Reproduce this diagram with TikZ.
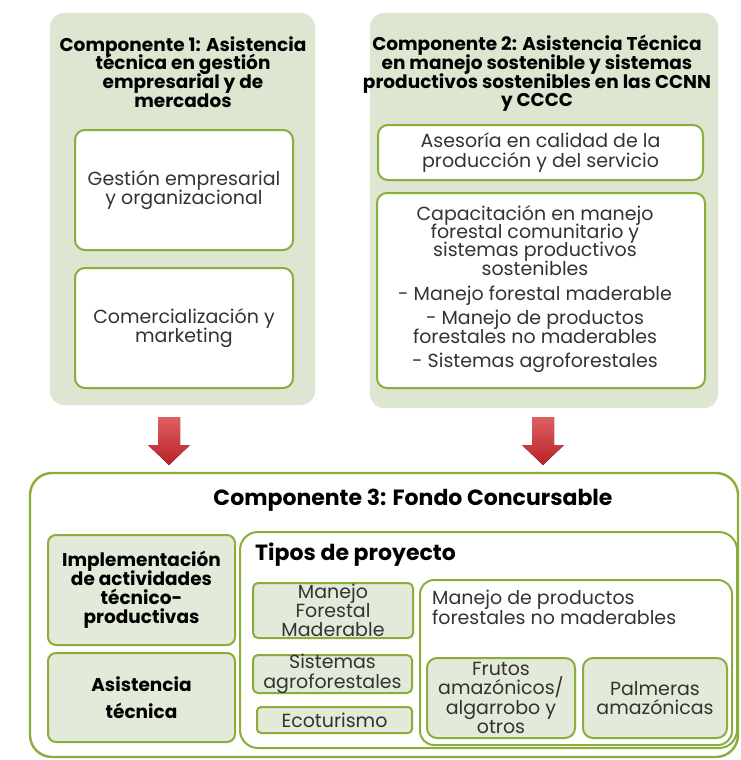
\documentclass[tikz,border=0pt]{standalone}
\usepackage{fontspec}
\setmainfont{Poppins}
\definecolor{panelgreen}{HTML}{DCE6D0}
\definecolor{olive}{HTML}{8AAE3C}
\definecolor{lightgreen}{HTML}{E3EAD9}
\definecolor{arrowred}{HTML}{D6383A}
\definecolor{arrowdark}{HTML}{B92226}
\newcommand\tightlines{\lineskiplimit=-50pt\relax}
\begin{document}
\begin{tikzpicture}[x=1pt,y=-1pt,
  panel/.style={fill=panelgreen,draw=none,rounded corners=14pt},
  wbox/.style={fill=white,draw=olive,line width=2pt,rounded corners=10pt},
  gbox/.style={fill=lightgreen,draw=olive,line width=2pt,rounded corners=8pt},
  ttl/.style={font=\fontsize{18.5}{18.7}\selectfont\bfseries\tightlines,align=center,inner sep=0pt},
  txt/.style={font=\fontsize{19}{19.5}\selectfont\tightlines,align=center,inner sep=0pt,text=black!80},
  btxt/.style={font=\fontsize{18.5}{19}\selectfont\bfseries\tightlines,align=center,inner sep=0pt},
  bigttl/.style={font=\fontsize{22}{24}\selectfont\bfseries,inner sep=0pt},
  blockarrow/.style={top color=arrowred!80!white,bottom color=arrowdark,draw=none}
]
\useasboundingbox (0,0) rectangle (741,760);
\fill[white] (0,0) rectangle (741,760);

% Component 1
\node[panel,minimum width=265pt,minimum height=392pt] (c1) at (182.5,209) {};
\node[ttl] (c1t) at (183,72) {Componente 1: Asistencia\\técnica en gestión\\empresarial y de\\mercados};
\node[wbox,minimum width=218pt,minimum height=120pt] (g1) at (184,190) {};
\node[txt] at (g1) {Gestión empresarial\\y organizacional};
\node[wbox,minimum width=218pt,minimum height=120pt] (g2) at (184,328) {};
\node[txt] at (g2) {Comercialización y\\marketing};

% Component 2
\node[panel,minimum width=348pt,minimum height=395pt] (c2) at (544,210.5) {};
\node[ttl] (c2t) at (537,73.5) {Componente 2: Asistencia Técnica\\en manejo sostenible y sistemas\\productivos sostenibles en las CCNN\\y CCCC};
\node[wbox,minimum width=325pt,minimum height=55pt] (a1) at (540.5,152.5) {};
\node[txt] at (a1) {Asesoría en calidad de la\\producción y del servicio};
\node[wbox,minimum width=328pt,minimum height=195pt] (a2) at (541,290.5) {};
\node[txt,font=\fontsize{19}{18.3}\selectfont\tightlines] at (535,289) {Capacitación en manejo\\forestal comunitario y\\sistemas productivos\\sostenibles\\[7pt]- Manejo forestal maderable\\[6pt]- Manejo de productos\\forestales no maderables\\[6pt]- Sistemas agroforestales};

% Component 3
\node[wbox,line width=2.4pt,rounded corners=22pt,minimum width=708pt,minimum height=284pt] (c3) at (384,615) {};
\node[bigttl] (c3t) at (413,500) {Componente 3: Fondo Concursable};
\node[gbox,minimum width=187pt,minimum height=110pt] (imp) at (141.5,590) {};
\node[btxt] at (imp) {Implementación\\de actividades\\técnico-\\productivas};
\node[gbox,minimum width=187pt,minimum height=89pt] (asis) at (141.5,697.5) {};
\node[btxt,font=\fontsize{18.5}{27}\selectfont\bfseries] at (asis) {Asistencia\\técnica};

\node[wbox,line width=2pt,rounded corners=18pt,minimum width=497pt,minimum height=216pt] (tp) at (488.5,640) {};
\node[bigttl,anchor=west] (tpt) at (255,555) {Tipos de proyecto};
\node[gbox,rounded corners=5pt,minimum width=160pt,minimum height=55pt] (mfm) at (333,610.5) {};
\node[txt,font=\fontsize{19}{19}\selectfont\tightlines] at (mfm) {Manejo\\Forestal\\Maderable};
\node[gbox,rounded corners=5pt,minimum width=159pt,minimum height=38pt] (saf) at (332.5,674) {};
\node[txt] at (saf) {Sistemas\\agroforestales};
\node[gbox,rounded corners=4pt,minimum width=155pt,minimum height=26pt] (eco) at (334.5,720) {};
\node[txt] at (eco) {Ecoturismo};

\node[wbox,line width=2pt,rounded corners=14pt,minimum width=312pt,minimum height=165pt] (pfnm) at (576,662.5) {};
\node[txt,align=left,anchor=north west] at (432,590) {Manejo de productos\\forestales no maderables};
\node[gbox,rounded corners=10pt,minimum width=148pt,minimum height=80pt] (fru) at (501,698) {};
\node[txt] at (fru) {Frutos\\amazónicos/\\algarrobo y\\otros};
\node[gbox,rounded corners=10pt,minimum width=144pt,minimum height=80pt] (pal) at (655,698) {};
\node[txt] at (pal) {Palmeras\\amazónicas};

% Arrows
\coordinate (ar1) at (169,417);
\coordinate (ar2) at (543,417);
\foreach \c in {ar1,ar2}{
  \fill[blockarrow] (\c) ++(-11,0) -- ++(22,0) -- ++(0,28) -- ++(10,0) -- ++(-21,20) -- ++(-21,-20) -- ++(10,0) -- cycle;
}
\end{tikzpicture}
\end{document}
